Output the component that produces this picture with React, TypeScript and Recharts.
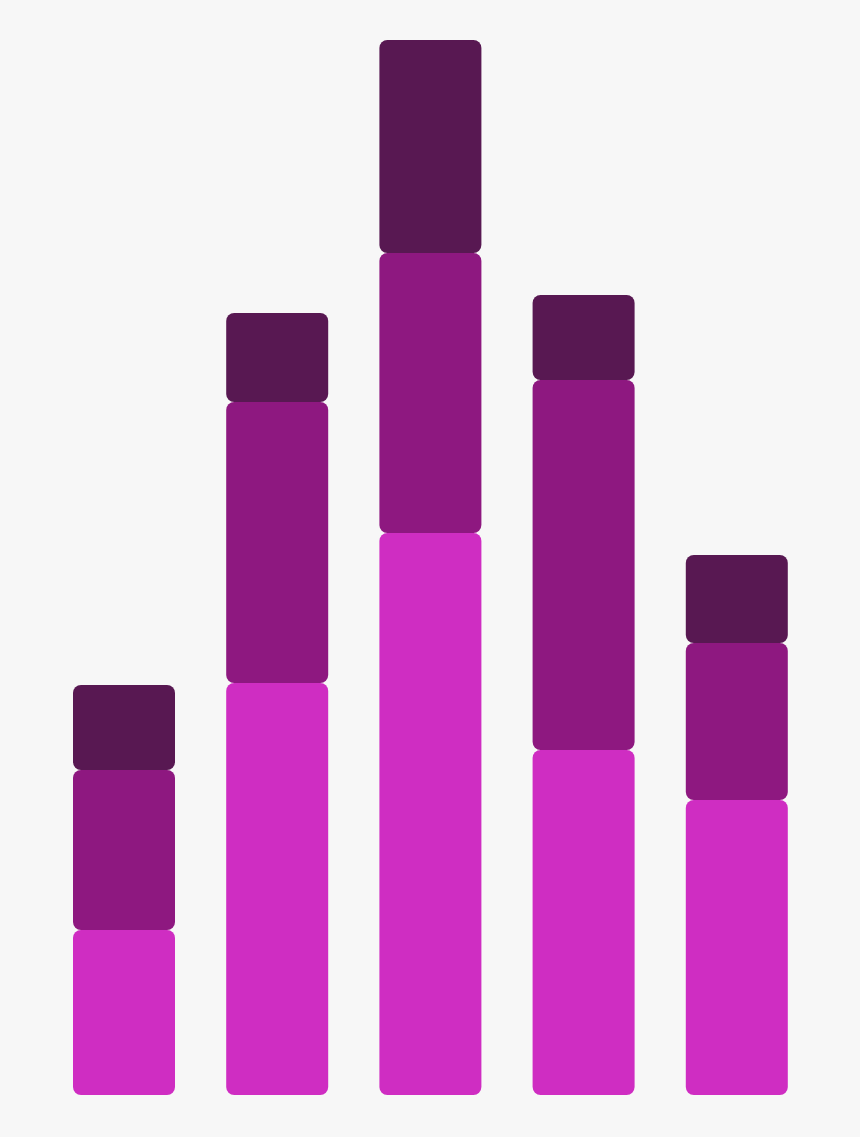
import React from "react";
import { BarChart, Bar, XAxis, YAxis } from "recharts";

const categories = ["A", "B", "C", "D", "E"];
const bottomValues = [165, 412, 562, 345, 295];
const middleValues = [160, 281, 280, 370, 157];
const topValues = [85, 89, 213, 85, 88];

const data = categories.map((name, i) => ({
  name,
  bottom: bottomValues[i],
  middle: middleValues[i],
  top: topValues[i],
}));

export default function App() {
  return (
    <div style={{ position: "absolute", left: 0, top: 0, width: 860, height: 1137, background: "#f7f7f7" }}>
      <BarChart
        width={860}
        height={1137}
        data={data}
        margin={{ top: 40, right: 47, bottom: 42, left: 47 }}
        barSize={102}
      >
        <XAxis dataKey="name" hide />
        <YAxis hide domain={[0, 1055]} />
        <Bar dataKey="bottom" stackId="s" fill="#cf2dc2" radius={[8, 8, 8, 8]} isAnimationActive={false} />
        <Bar dataKey="middle" stackId="s" fill="#8e1880" radius={[8, 8, 8, 8]} isAnimationActive={false} />
        <Bar dataKey="top" stackId="s" fill="#581852" radius={[8, 8, 8, 8]} isAnimationActive={false} />
      </BarChart>
    </div>
  );
}
